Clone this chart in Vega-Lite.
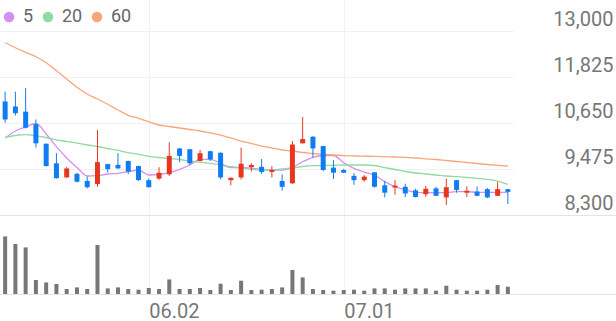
{
  "$schema": "https://vega.github.io/schema/vega-lite/v6.json",
  "padding": 0,
  "spacing": 0,
  "config": {"view": {"stroke": null}, "font": "Roboto"},
  "datasets": {
    "k": [
      {"d":"05.13","o":11200,"h":11450,"l":10660,"c":10740,"v":1152000,"ma5":10267,"ma20":10285,"ma60":12701},
      {"d":"05.14","o":11070,"h":11450,"l":10840,"c":10900,"v":1000000,"ma5":10446,"ma20":10331,"ma60":12573},
      {"d":"05.15","o":10940,"h":11540,"l":10510,"c":10530,"v":932000,"ma5":10548,"ma20":10351,"ma60":12456},
      {"d":"05.16","o":10620,"h":10740,"l":10020,"c":10130,"v":280000,"ma5":10637,"ma20":10323,"ma60":12343},
      {"d":"05.19","o":10120,"h":10130,"l":9540,"c":9550,"v":232000,"ma5":10369,"ma20":10280,"ma60":12190},
      {"d":"05.20","o":9620,"h":9880,"l":9230,"c":9240,"v":200000,"ma5":10045,"ma20":10221,"ma60":11986},
      {"d":"05.21","o":9260,"h":9530,"l":9250,"c":9490,"v":100000,"ma5":9756,"ma20":10177,"ma60":11774},
      {"d":"05.22","o":9350,"h":9380,"l":9130,"c":9150,"v":132000,"ma5":9513,"ma20":10134,"ma60":11562},
      {"d":"05.23","o":9170,"h":9280,"l":8980,"c":9010,"v":100000,"ma5":9296,"ma20":10088,"ma60":11391},
      {"d":"05.26","o":9090,"h":10470,"l":9020,"c":9650,"v":980000,"ma5":9304,"ma20":10050,"ma60":11263},
      {"d":"05.27","o":9600,"h":9610,"l":9390,"c":9470,"v":112000,"ma5":9347,"ma20":9999,"ma60":11128},
      {"d":"05.28","o":9580,"h":9880,"l":9480,"c":9490,"v":132000,"ma5":9365,"ma20":9948,"ma60":10982},
      {"d":"05.29","o":9680,"h":9690,"l":9350,"c":9410,"v":100000,"ma5":9406,"ma20":9896,"ma60":10847},
      {"d":"05.30","o":9550,"h":9560,"l":9170,"c":9190,"v":86000,"ma5":9449,"ma20":9850,"ma60":10770},
      {"d":"06.02","o":9190,"h":9230,"l":9000,"c":9010,"v":120000,"ma5":9322,"ma20":9799,"ma60":10683},
      {"d":"06.04","o":9230,"h":9520,"l":9200,"c":9380,"v":100000,"ma5":9334,"ma20":9769,"ma60":10599},
      {"d":"06.05","o":9340,"h":10160,"l":9300,"c":9810,"v":292000,"ma5":9380,"ma20":9743,"ma60":10561},
      {"d":"06.09","o":10000,"h":10010,"l":9650,"c":9810,"v":100000,"ma5":9467,"ma20":9718,"ma60":10522},
      {"d":"06.10","o":9980,"h":9990,"l":9580,"c":9620,"v":100000,"ma5":9577,"ma20":9679,"ma60":10484},
      {"d":"06.11","o":9680,"h":9960,"l":9670,"c":9880,"v":120000,"ma5":9723,"ma20":9649,"ma60":10446},
      {"d":"06.12","o":9930,"h":9940,"l":9680,"c":9720,"v":80000,"ma5":9723,"ma20":9621,"ma60":10395},
      {"d":"06.13","o":9890,"h":9900,"l":9210,"c":9260,"v":206000,"ma5":9621,"ma20":9577,"ma60":10343},
      {"d":"06.16","o":9190,"h":9260,"l":9060,"c":9250,"v":80000,"ma5":9508,"ma20":9534,"ma60":10267},
      {"d":"06.17","o":9260,"h":10020,"l":9210,"c":9610,"v":266000,"ma5":9518,"ma20":9501,"ma60":10190},
      {"d":"06.18","o":9520,"h":9620,"l":9410,"c":9580,"v":80000,"ma5":9493,"ma20":9467,"ma60":10126},
      {"d":"06.19","o":9530,"h":9730,"l":9350,"c":9400,"v":86000,"ma5":9467,"ma20":9449,"ma60":10062},
      {"d":"06.20","o":9400,"h":9550,"l":9260,"c":9450,"v":100000,"ma5":9449,"ma20":9449,"ma60":10011},
      {"d":"06.23","o":9170,"h":9340,"l":8920,"c":9020,"v":132000,"ma5":9449,"ma20":9475,"ma60":9960},
      {"d":"06.24","o":9110,"h":10190,"l":9090,"c":10100,"v":480000,"ma5":9518,"ma20":9501,"ma60":9935},
      {"d":"06.25","o":10130,"h":10800,"l":10130,"c":10240,"v":332000,"ma5":9661,"ma20":9539,"ma60":9896},
      {"d":"06.26","o":10300,"h":10310,"l":9770,"c":10000,"v":100000,"ma5":9774,"ma20":9559,"ma60":9871},
      {"d":"06.27","o":10060,"h":10070,"l":9420,"c":9450,"v":80000,"ma5":9820,"ma20":9564,"ma60":9850},
      {"d":"06.30","o":9510,"h":9700,"l":9220,"c":9380,"v":66000,"ma5":9820,"ma20":9569,"ma60":9833},
      {"d":"07.01","o":9450,"h":9480,"l":9370,"c":9380,"v":80000,"ma5":9636,"ma20":9577,"ma60":9815},
      {"d":"07.02","o":9300,"h":9370,"l":9070,"c":9190,"v":86000,"ma5":9493,"ma20":9577,"ma60":9807},
      {"d":"07.03","o":9190,"h":9320,"l":9150,"c":9280,"v":66000,"ma5":9398,"ma20":9577,"ma60":9802},
      {"d":"07.04","o":9390,"h":9400,"l":9000,"c":9020,"v":112000,"ma5":9322,"ma20":9564,"ma60":9797},
      {"d":"07.07","o":9060,"h":9170,"l":8750,"c":8870,"v":112000,"ma5":9151,"ma20":9513,"ma60":9789},
      {"d":"07.08","o":9000,"h":9190,"l":8820,"c":9050,"v":86000,"ma5":9023,"ma20":9462,"ma60":9781},
      {"d":"07.09","o":9020,"h":9100,"l":8760,"c":8850,"v":112000,"ma5":8939,"ma20":9411,"ma60":9774},
      {"d":"07.10","o":8930,"h":8970,"l":8750,"c":8760,"v":112000,"ma5":8880,"ma20":9373,"ma60":9756},
      {"d":"07.11","o":8830,"h":9040,"l":8770,"c":8970,"v":112000,"ma5":8870,"ma20":9347,"ma60":9736},
      {"d":"07.14","o":8980,"h":9020,"l":8780,"c":8790,"v":66000,"ma5":8870,"ma20":9322,"ma60":9718},
      {"d":"07.15","o":8750,"h":9230,"l":8560,"c":9010,"v":166000,"ma5":8870,"ma20":9296,"ma60":9692},
      {"d":"07.16","o":9190,"h":9200,"l":8870,"c":8940,"v":86000,"ma5":8895,"ma20":9278,"ma60":9667},
      {"d":"07.17","o":8870,"h":9030,"l":8760,"c":8920,"v":66000,"ma5":8895,"ma20":9258,"ma60":9641},
      {"d":"07.18","o":8900,"h":9030,"l":8780,"c":8790,"v":66000,"ma5":8880,"ma20":9237,"ma60":9615},
      {"d":"07.21","o":8960,"h":8990,"l":8730,"c":8750,"v":86000,"ma5":8880,"ma20":9212,"ma60":9590},
      {"d":"07.22","o":8790,"h":9140,"l":8780,"c":8960,"v":180000,"ma5":8880,"ma20":9168,"ma60":9569},
      {"d":"07.23","o":8960,"h":8970,"l":8580,"c":8890,"v":146000,"ma5":8880,"ma20":9084,"ma60":9552}
    ]
  },
  "vconcat": [
    {
      "width": 513,
      "height": 215,
      "data": {"name": "k"},
      "encoding": {
        "x": {
          "field": "d", "type": "ordinal",
          "scale": {"type": "point", "padding": 0.5},
          "axis": {"values": ["06.02", "07.01"], "labels": false, "ticks": false, "domain": false, "grid": true, "gridColor": "#f1f1f1", "title": null}
        }
      },
      "layer": [
        {
          "transform": [{"fold": ["ma5", "ma20", "ma60"], "as": ["ma", "val"]}],
          "mark": {"type": "line", "strokeWidth": 1.3, "interpolate": "monotone"},
          "encoding": {
            "y": {"field": "val", "type": "quantitative", "scale": {"domain": [8300, 13792], "nice": false, "zero": false},
              "axis": {
                "orient": "right", "title": null, "values": [8300, 9475, 10650, 11825, 13000], "format": ",.0f",
                "domain": false, "grid": true,
                "gridColor": {"condition": {"test": "datum.value === 8300", "value": "#e4e4e4"}, "value": "#f1f1f1"},
                "ticks": true, "tickSize": 103,
                "tickColor": {"condition": {"test": "datum.value === 8300", "value": "#e4e4e4"}, "value": "transparent"},
                "labelAlign": "right", "labelPadding": -3, "labelBaseline": "alphabetic", "labelOffset": -6,
                "labelFontSize": 20, "labelColor": "#777777", "labelFont": "Roboto"
              }
            },
            "color": {
              "field": "ma", "type": "nominal",
              "scale": {"domain": ["ma5", "ma20", "ma60"], "range": ["#d58ff0", "#8fd9a3", "#f7a67c"]},
              "legend": {
                "orient": "none", "legendX": 0, "legendY": 8, "direction": "horizontal", "title": null,
                "symbolType": "circle", "symbolSize": 110, "symbolStrokeWidth": 0,
                "labelFontSize": 18, "labelColor": "#666666", "labelFont": "Roboto", "labelOffset": 5, "columnPadding": 5,
                "labelExpr": "replace(datum.label, 'ma', '')",
                "encode": {"symbols": {"update": {"fill": {"scale": "color", "field": "value"}, "strokeWidth": {"value": 0}, "opacity": {"value": 1}}}}
              }
            }
          }
        },
        {
          "mark": {"type": "rule", "strokeWidth": 1},
          "encoding": {
            "y": {"field": "l", "type": "quantitative"},
            "y2": {"field": "h"},
            "color": {"condition": {"test": "datum.c >= datum.o", "value": "#e8361e"}, "value": "#0f7cf2"}
          }
        },
        {
          "mark": {"type": "bar", "width": 5},
          "encoding": {
            "y": {"field": "o", "type": "quantitative"},
            "y2": {"field": "c"},
            "color": {"condition": {"test": "datum.c >= datum.o", "value": "#e8361e"}, "value": "#0f7cf2"}
          }
        }
      ]
    },
    {
      "width": 513,
      "height": 78,
      "data": {"name": "k"},
      "mark": {"type": "bar", "width": 4, "color": "#777777"},
      "encoding": {
        "x": {
          "field": "d", "type": "ordinal",
          "scale": {"type": "point", "padding": 0.5},
          "axis": {"values": ["06.02", "07.01"], "ticks": false, "domain": false, "grid": true, "gridColor": "#f1f1f1", "title": null,
            "labelAngle": 0, "labelAlign": "left", "labelBaseline": "top", "labelPadding": 7, "labelFontSize": 20, "labelColor": "#777777", "labelFont": "Roboto"}
        },
        "y": {
          "field": "v", "type": "quantitative",
          "scale": {"domain": [0, 1560000], "nice": false},
          "axis": {"orient": "right", "title": null, "values": [0], "labels": false, "domain": false, "grid": true, "gridColor": "#e4e4e4", "ticks": true, "tickSize": 103, "tickColor": "#e4e4e4"}
        }
      }
    }
  ]
}
